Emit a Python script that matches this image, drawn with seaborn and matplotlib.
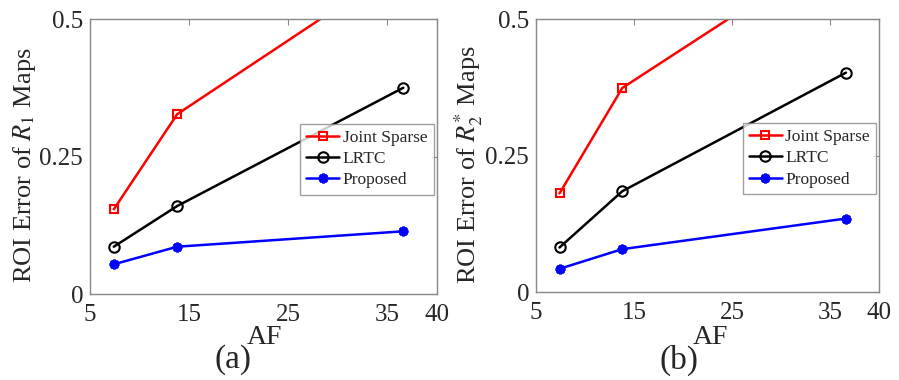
import numpy as np
import pandas as pd
import seaborn as sns
import matplotlib
matplotlib.use("Agg")
import matplotlib.pyplot as plt

# acceleration factors
af = [7.4, 13.8, 36.6]
methods = ["Joint Sparse", "LRTC", "Proposed"]

# (a) ROI error of R1 maps
r1_joint = [0.154, 0.327, 0.60]
r1_lrtc = [0.086, 0.160, 0.375]
r1_prop = [0.054, 0.086, 0.114]

# (b) ROI error of R2* maps
r2_joint = [0.181, 0.374, 0.64]
r2_lrtc = [0.082, 0.185, 0.402]
r2_prop = [0.043, 0.079, 0.135]

x_ticks = [5, 15, 25, 35, 40]
y_ticks = [0, 0.25, 0.5]
y_ticklabels = ["0", "0.25", "0.5"]

sns.set_style("white")
plt.rcParams["font.family"] = ["Liberation Serif", "DejaVu Serif"]
plt.rcParams["mathtext.fontset"] = "stix"

colors = {"Joint Sparse": "#ff0000", "LRTC": "#000000", "Proposed": "#0000ff"}
marker_kw = {
    "Joint Sparse": dict(marker="s", markersize=6, markerfacecolor="none", markeredgewidth=1.5),
    "LRTC": dict(marker="o", markersize=7.5, markerfacecolor="none", markeredgewidth=1.5),
    "Proposed": dict(marker=(8, 2, 0), markersize=7, markeredgewidth=2.0),
}


def make_df(joint, lrtc, prop):
    rows = []
    for m, vals in zip(methods, [joint, lrtc, prop]):
        for a, v in zip(af, vals):
            rows.append({"AF": a, "err": v, "method": m})
    return pd.DataFrame(rows)


fig = plt.figure(figsize=(8.99, 3.8), dpi=100)
ax_a = fig.add_axes([0.1001, 0.2263, 0.386, 0.7237])
ax_b = fig.add_axes([0.5962, 0.2308, 0.3819, 0.719])

panels = [
    (ax_a, make_df(r1_joint, r1_lrtc, r1_prop), r"ROI Error of $R_1$ Maps", "(a)", 264, 233, 25),
    (ax_b, make_df(r2_joint, r2_lrtc, r2_prop), r"ROI Error of $R_2^{*}$ Maps", "(b)", 710, 679, 469),
]

for ax, df, ylab, tag, af_x, tag_x, ylab_x in panels:
    for m in methods:
        sub = df[df["method"] == m]
        sns.lineplot(data=sub, x="AF", y="err", ax=ax, color=colors[m], lw=1.8,
                     label=m, markeredgecolor=colors[m], **marker_kw[m])
    ax.set_xlim(5, 40)
    ax.set_ylim(0, 0.5)
    ax.set_xticks(x_ticks)
    ax.set_yticks(y_ticks)
    ax.set_yticklabels(y_ticklabels)
    ax.tick_params(direction="in", length=4, width=0.8, color="#888888",
                   labelsize=18, top=True, right=True)
    ax.tick_params(axis="x", pad=7)
    ax.tick_params(axis="y", pad=5)
    for s in ax.spines.values():
        s.set_color("#888888")
        s.set_linewidth(1.0)
    ax.set_xlabel("")
    ax.set_ylabel("")
    leg = ax.legend(loc="upper right", bbox_to_anchor=(0.99, 0.62), fontsize=12.5,
                    frameon=True, fancybox=False, handlelength=1.9,
                    handletextpad=0.2, borderpad=0.35, labelspacing=0.3,
                    borderaxespad=0)
    leg.get_frame().set_edgecolor("#888888")
    leg.get_frame().set_linewidth(1.0)
    fig.text(ylab_x / 899, 1 - 165 / 380, ylab, rotation=90, ha="center", va="center",
             fontsize=19)
    fig.text(af_x / 899, 1 - 337 / 380, "AF", ha="center", va="center", fontsize=20)
    fig.text(tag_x / 899, 1 - 360 / 380, tag, ha="center", va="center", fontsize=24)

fig.savefig("out.png", dpi=100)
